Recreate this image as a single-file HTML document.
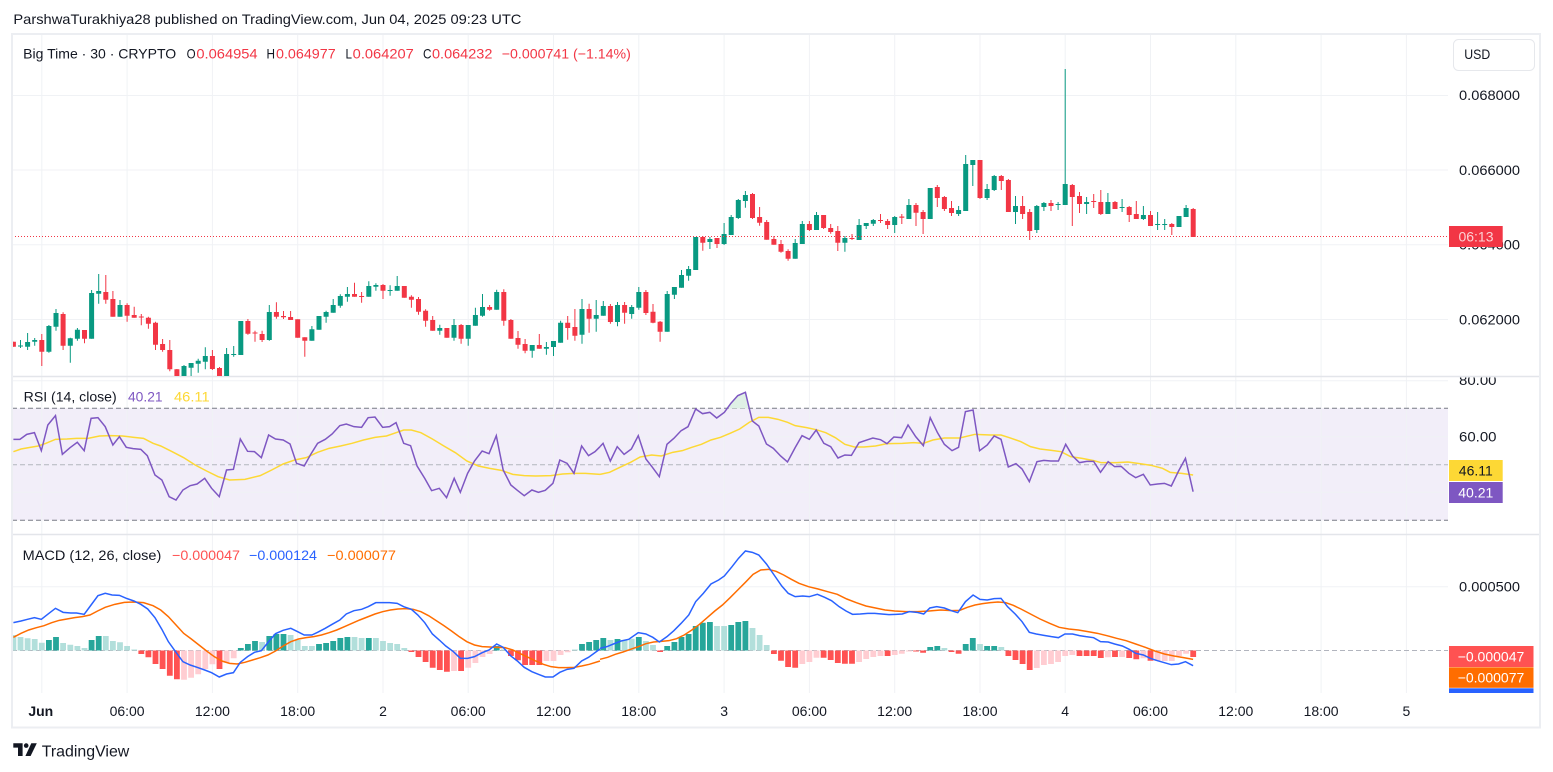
<!DOCTYPE html>
<html><head><meta charset="utf-8">
<style>
html,body{margin:0;padding:0;background:#fff;}
svg{display:block;}
text{font-family:"Liberation Sans",sans-serif;fill:#131722;}
</style></head>
<body>
<svg width="1553" height="772" viewBox="0 0 1553 772" xmlns="http://www.w3.org/2000/svg">
<defs>
<clipPath id="cp"><rect x="12" y="34" width="1436" height="342"/></clipPath>
<clipPath id="cr"><rect x="12" y="377" width="1436" height="157"/></clipPath>
<clipPath id="cm"><rect x="12" y="535" width="1436" height="158"/></clipPath>
<clipPath id="cra"><rect x="1448" y="377.5" width="92" height="157"/></clipPath>
<clipPath id="cma"><rect x="1448" y="535" width="92" height="158"/></clipPath>
</defs>
<rect width="1553" height="772" fill="#fff"/>

<!-- header -->
<text x="13.4" y="24" font-size="14" textLength="508" lengthAdjust="spacingAndGlyphs">ParshwaTurakhiya28 published on TradingView.com, Jun 04, 2025 09:23 UTC</text>

<!-- RSI band -->
<rect x="12" y="408.3" width="1436" height="112" fill="#f2eef9"/>

<!-- vertical gridlines -->
<g stroke="#f0f2f5" stroke-width="1">
<path d="M41.8 34V693M127.1 34V693M212.4 34V693M297.7 34V693M383 34V693M468.2 34V693M553.5 34V693M638.8 34V693M724.1 34V693M809.4 34V693M894.7 34V693M980 34V693M1065.2 34V693M1150.5 34V693M1235.8 34V693M1321.1 34V693M1406.4 34V693"/>
<path d="M12 95.5H1448M12 170H1448M12 244.7H1448M12 319.5H1448M12 380.7H1448M12 436.7H1448M12 492.3H1448M12 586.7H1448"/>
</g>
<!-- RSI dashed levels -->
<path d="M12 408.3H1448M12 520.3H1448" stroke="#787b86" stroke-width="1" stroke-dasharray="5 3"/>
<path d="M12 464.7H1448" stroke="#b2b5be" stroke-width="1" stroke-dasharray="5 3"/>
<path d="M12 650.5H1448" stroke="#b2b5be" stroke-width="1" stroke-dasharray="5 3"/>

<!-- pane separators -->
<path d="M12 376.5H1540M12 534.5H1540" stroke="#e3e5ea" stroke-width="1.5"/>

<!-- candles -->
<g clip-path="url(#cp)">
<path fill="none" stroke="#089981" stroke-width="1" d="M20.5 340V348M27.6 333V350M34.7 338V345.7M48.9 325V352.7M56 309V330.7M70.3 337.7V362.7M77.4 328V340.7M91.6 290V338.7M98.7 274V303.7M120 300V316.7M184 365V378M191.1 363V376M198.2 358.7V372.7M205.3 347.3V369.3M226.6 348V378M233.7 346V356.7M240.8 321V355M269.3 305V340.7M311.9 326V340.7M319 316V329.7M326.1 310.7V322.7M333.2 299V312.7M340.3 294.3V307.7M347.4 287V301.7M368.8 281.3V296.7M375.9 283.3V290.7M390.1 285.3V295.7M397.2 276V290.7M439.8 324.7V334.7M454 319V340.7M468.2 325V345.7M475.4 307.7V325.7M482.5 294V316.7M496.7 289.7V309.7M532.2 345V357.7M546.4 342V354.7M553.5 341V356M560.6 320.7V342.7M582 299V343.7M596.2 300V331.7M603.3 301V315.7M617.5 302V326.3M631.7 305V318.7M638.8 287V309.7M667.2 291V331.7M674.4 287V299M681.5 270V287.7M688.6 266V280.7M695.7 237V270M709.9 237V249M724.1 223V245M731.2 215V235M738.3 199V219M745.4 191V207.7M795.2 239V258.7M802.3 221V244M816.5 212V230M844.9 236V251.7M859.1 219V240M866.2 223V229M873.3 219V226M894.7 216V233M908.9 199V219M930.2 188V219M958.6 206V216M965.7 155V211M972.8 160V186M987.1 184V200M994.2 175V191M1015.5 196V224M1036.8 205V233M1043.9 202V211M1058.1 202V210M1065.2 69V205M1086.6 197V214M1107.9 193V214M1122.1 199V212M1143.4 206V220M1157.6 212V230M1164.7 219V230M1179 216V227M1186.1 205V217"/>
<path fill="none" stroke="#089981" stroke-width="5" d="M20.5 345.5V346.5M27.6 342V346.7M34.7 340V341.7M48.9 326V351.7M56 313V326.7M70.3 338.3V345.7M77.4 329.7V338.7M91.6 293V338.7M98.7 291V293.7M120 305V316.7M184 366V376M191.1 363V367.7M198.2 360.7V363.7M205.3 356V361.7M226.6 354V376M233.7 354V355M240.8 321V355M269.3 312V340M311.9 329.3V340.7M319 316V329.7M326.1 312V316.7M333.2 305V312.7M340.3 296V305.7M347.4 294V296.7M368.8 286V296.7M375.9 285V286.7M390.1 290V291M397.2 286V290.7M439.8 328V330.7M454 325V337.7M468.2 325V338.7M475.4 315V325.7M482.5 307V315.7M496.7 292V309.7M532.2 345V350.7M546.4 347V348.7M553.5 341V347M560.6 322.7V342.7M582 309V334.7M596.2 315V318.7M603.3 306V315.7M617.5 305V322M631.7 307V314M638.8 292V307.7M667.2 294V331.7M674.4 287V294.7M681.5 275V287.7M688.6 269V275.7M695.7 237V270M709.9 239V242M724.1 234V244M731.2 217V235M738.3 200V218M745.4 195V201M795.2 243V258.7M802.3 224V244M816.5 215V230M844.9 238V242.7M859.1 225V240M866.2 223V226M873.3 220V223.7M894.7 217V225M908.9 205V219M930.2 188V219M958.6 210V214M965.7 164V211M972.8 160V165M987.1 189V198M994.2 176V190M1015.5 206V212M1036.8 206V230M1043.9 203V207M1058.1 204V205M1065.2 184V205M1086.6 202V204M1107.9 202V214M1122.1 207V208M1143.4 215V219M1157.6 224V225M1164.7 224V225M1179 216V227M1186.1 208V217"/>
<path fill="none" stroke="#f23645" stroke-width="1" d="M13.4 341.7V346.7M41.8 334V366M63.1 312.3V350M84.5 330V343.3M105.8 275V303.7M112.9 291V316.7M127.1 303.3V321.7M134.2 306.7V317.7M141.3 314V325.3M148.4 316.7V328.7M155.5 321.7V350M162.6 339V351.7M169.8 340V371.3M176.9 369V378M212.4 350V370M219.5 367V378M247.9 319V334.7M255 330.7V341.7M262.1 330.7V342M276.4 302.3V318.7M283.5 311V319M290.6 311V320M297.7 319.3V337.7M304.8 337.3V356.7M354.5 282.7V296.7M361.6 292V302.7M383 284V299M404.3 286V297.7M411.4 295.3V307.7M418.5 297V314.7M425.6 309.3V326.7M432.7 316V330.7M446.9 328V337.7M461.1 324V343.7M489.6 305V310.7M503.8 289.3V325.7M510.9 319V338.7M518 331V348.7M525.1 339V353.3M539.3 334V348.7M567.7 316V339.7M574.9 309V340.7M589.1 303.7V332.7M610.4 304V323.7M624.6 302V323.7M645.9 290V315M653 304V323.3M660.1 321V341.7M702.8 236V250.7M717 238V248M752.5 193V219M759.6 207V225.7M766.7 220V239.7M773.9 236V244.7M781 240V252.7M788.1 249.3V260.7M809.4 221V231M823.6 215V229M830.7 224V233.7M837.8 226V251M852 234V240M880.5 214V223M887.6 219V229M901.8 214V224M916 203V226M923.1 210V234M937.3 185V207M944.4 196V211M951.5 201V216M980 160V199M1001.3 175V190M1008.4 179V212M1022.6 196V219M1029.7 209V240M1051 200V211M1072.3 184V226M1079.5 192V213M1093.7 194V208M1100.8 190V215M1115 201V209M1129.2 206V222M1136.3 201V219M1150.5 211V226M1171.8 223V235M1193.2 208V237"/>
<path fill="none" stroke="#f23645" stroke-width="5" d="M13.4 341.7V346.7M41.8 340V351.7M63.1 314V345.7M84.5 330V338.7M105.8 292V299.7M112.9 299V316.7M127.1 305V315.7M134.2 315V317.7M141.3 316.5V317.5M148.4 317.7V323.7M155.5 322.7V344.7M162.6 344V350M169.8 350V369.3M176.9 369.3V378M212.4 356V369M219.5 368V378M247.9 321V333.7M255 332.5V333.5M262.1 334V340M276.4 312V316.7M283.5 316V317.3M290.6 317V320M297.7 319.3V337.7M304.8 337.3V340.7M354.5 294V296.7M361.6 296V297M383 285V290.7M404.3 286V297.7M411.4 296.7V299.7M418.5 299V311.7M425.6 310.7V320.7M432.7 320V330.7M446.9 328V337.7M461.1 325V338.7M489.6 307V309.7M503.8 292V320.7M510.9 320V338.7M518 338V344.7M525.1 344V350.7M539.3 345V348.7M567.7 322.7V328M574.9 327V335.7M589.1 309V318.7M610.4 306V322M624.6 305V312.7M645.9 292V313M653 311.7V322.7M660.1 321.7V331.7M702.8 237V242.7M717 238V244M752.5 194V218M759.6 217V222.7M766.7 222V239.7M773.9 239V244.7M781 244V251.7M788.1 251V258.7M809.4 224V230M823.6 215V228M830.7 228V232M837.8 231V242.7M852 238V239M880.5 220V221M887.6 221V225M901.8 216.5V217.7M916 205V212.7M923.1 212V219M937.3 187V198M944.4 197V209M951.5 208V213M980 160V198M1001.3 176V181M1008.4 180V212M1022.6 206V214M1029.7 212V231M1051 203V206M1072.3 185V197M1079.5 196V204M1093.7 201V202M1100.8 202V214M1115 202V209M1129.2 207V215M1136.3 214V219M1150.5 215V226M1171.8 224V227M1193.2 209V237"/>
</g>
<!-- current price dotted line -->
<path d="M12 236.5H1448" stroke="#f23645" stroke-width="1" stroke-dasharray="1 2"/>

<!-- RSI -->
<g clip-path="url(#cr)">
<g transform="translate(600 385) scale(0.38265 0.33333)">
<polygon points="335,70 342,55 360,32 380,22 390,70" fill="#dff0e6"/>
</g>
<g transform="translate(0 385) scale(0.38265 0.33333)" fill="none">
<polyline vector-effect="non-scaling-stroke" stroke="#fdd835" stroke-width="1.5" points="35,200 55,192 75,188 100,183 120,175 145,163 175,162 200,160 230,160 260,153 290,152 320,153 350,157 375,160 400,175 420,183 450,200 480,218 510,240 540,258 570,275 600,285 640,283 680,272 710,255 740,237 770,225 800,218 830,202 860,190 890,183 920,175 950,165 980,157 1010,153 1035,143 1055,135 1075,135 1100,143 1130,162 1160,183 1190,203 1220,228 1250,243 1280,250 1310,256 1340,268 1370,272 1400,273 1440,272 1470,267 1500,265 1530,265 1568,268"/>
<polyline vector-effect="non-scaling-stroke" stroke="#7e57c2" stroke-width="1.5" points="35,163 52,163 70,148 90,143 108,197 125,120 145,92 163,208 183,188 202,172 220,197 238,100 256,98 275,125 295,180 312,155 330,187 348,191 368,193 385,212 405,270 423,285 442,335 460,345 478,315 497,302 515,297 535,280 553,310 573,335 592,255 610,253 628,162 647,199 665,200 683,218 702,150 720,162 740,165 758,177 775,235 795,243 812,208 830,175 850,163 868,147 888,122 905,117 925,125 945,127 962,98 980,96 1000,127 1018,125 1035,113 1055,175 1073,182 1090,243 1110,280 1128,317 1148,310 1167,338 1187,280 1203,322 1222,265 1240,228 1260,198 1278,206 1297,152 1315,255 1335,300 1352,316 1370,332 1390,315 1407,322 1425,316 1445,295 1463,225 1482,235 1500,265 1520,183 1538,212 1555,200 1568,185"/>
</g>
<g transform="translate(600 385) scale(0.38265 0.33333)" fill="none">
<polyline vector-effect="non-scaling-stroke" stroke="#fdd835" stroke-width="1.5" points="0,268 25,262 50,248 80,232 105,216 135,210 160,213 190,202 215,197 240,187 265,178 290,165 315,157 340,145 365,132 390,112 415,97 440,97 465,103 490,112 510,122 540,128 565,134 590,143 615,158 640,178 665,186 690,186 720,183 750,176 790,175 820,173 845,175 870,165 900,159 940,159 980,148 1020,150 1048,150 1070,158 1100,170 1125,185 1150,192 1180,196 1205,200 1230,215 1260,220 1290,227 1310,233 1350,233 1380,231 1410,236 1440,241 1470,250 1490,262 1520,265 1550,270"/>
<polyline vector-effect="non-scaling-stroke" stroke="#7e57c2" stroke-width="1.5" points="0,185 8,175 27,228 45,185 63,208 82,192 100,152 120,222 137,247 155,275 175,178 193,160 212,137 230,125 250,72 268,86 287,82 305,99 325,82 342,55 360,32 380,22 398,108 415,123 435,177 453,190 472,213 490,231 510,188 528,152 547,163 565,135 585,175 603,185 622,219 640,210 657,211 677,173 695,166 713,159 733,164 750,176 768,156 788,158 805,120 825,155 845,182 863,98 882,143 900,178 920,197 937,187 955,80 975,75 992,197 1012,180 1030,153 1048,163 1067,246 1087,236 1103,252 1122,290 1142,230 1160,226 1178,228 1198,228 1217,178 1235,213 1253,233 1272,229 1290,229 1308,262 1328,230 1345,245 1362,244 1382,265 1400,278 1420,268 1438,300 1457,297 1475,295 1493,303 1512,258 1530,220 1550,320"/>
</g>
</g>

<!-- MACD -->
<g clip-path="url(#cm)">
<path fill="none" stroke="#b2dfdb" stroke-width="5.8" d="M13.4 650.5V635M20.5 650.5V637M27.6 650.5V638.3M34.7 650.5V639M41.8 650.5V642.7M63.1 650.5V643M70.3 650.5V644.7M77.4 650.5V646M84.5 650.5V648M105.8 650.5V636M112.9 650.5V641M120 650.5V642.3M127.1 650.5V646M134.2 650.5V649.5M262.1 650.5V642M290.6 650.5V635M297.7 650.5V640M304.8 650.5V646M311.9 650.5V646M354.5 650.5V637M361.6 650.5V638M375.9 650.5V638M383 650.5V641M390.1 650.5V643M397.2 650.5V644M404.3 650.5V648M503.8 650.5V649.5M574.9 650.5V649.5M610.4 650.5V640M624.6 650.5V640M631.7 650.5V638.7M645.9 650.5V641M653 650.5V645M717 650.5V626M724.1 650.5V626M752.5 650.5V628M759.6 650.5V635M766.7 650.5V645M944.4 650.5V648M980 650.5V644M1001.3 650.5V647"/>
<path fill="none" stroke="#26a69a" stroke-width="5.8" d="M48.9 650.5V640M56 650.5V637M91.6 650.5V640M98.7 650.5V636M240.8 650.5V648M247.9 650.5V644M255 650.5V641M269.3 650.5V636M276.4 650.5V634M283.5 650.5V634M319 650.5V644M326.1 650.5V643M333.2 650.5V641M340.3 650.5V638M347.4 650.5V637M368.8 650.5V638M496.7 650.5V646M582 650.5V644M589.1 650.5V642M596.2 650.5V640M603.3 650.5V638M617.5 650.5V639M638.8 650.5V637M667.2 650.5V646M674.4 650.5V642M681.5 650.5V637M688.6 650.5V634M695.7 650.5V626M702.8 650.5V622.7M709.9 650.5V622M731.2 650.5V625M738.3 650.5V622M745.4 650.5V621M930.2 650.5V647M937.3 650.5V646M965.7 650.5V644M972.8 650.5V638M987.1 650.5V646M994.2 650.5V646"/>
<path fill="none" stroke="#ff5252" stroke-width="5.8" d="M141.3 650.5V654M148.4 650.5V657.3M155.5 650.5V664M162.6 650.5V669M169.8 650.5V675.7M176.9 650.5V679.3M219.5 650.5V669M411.4 650.5V652M418.5 650.5V657M425.6 650.5V662M432.7 650.5V667.7M439.8 650.5V670M446.9 650.5V671.7M461.1 650.5V671M510.9 650.5V656M518 650.5V660.3M525.1 650.5V665M532.2 650.5V665M539.3 650.5V665M660.1 650.5V652M773.9 650.5V654M781 650.5V660.7M788.1 650.5V667M795.2 650.5V667.7M823.6 650.5V657.7M830.7 650.5V660M837.8 650.5V663M844.9 650.5V663.7M852 650.5V663.7M887.6 650.5V656M916 650.5V651.5M923.1 650.5V652.7M951.5 650.5V652M958.6 650.5V653.7M1008.4 650.5V656M1015.5 650.5V660M1022.6 650.5V664M1029.7 650.5V670M1079.5 650.5V656M1086.6 650.5V656M1093.7 650.5V656M1100.8 650.5V658M1115 650.5V657M1129.2 650.5V658M1136.3 650.5V659.3M1150.5 650.5V660.7M1193.2 650.5V657"/>
<path fill="none" stroke="#ffcdd2" stroke-width="5.8" d="M184 650.5V679.7M191.1 650.5V677.7M198.2 650.5V674.3M205.3 650.5V669M212.4 650.5V664.3M226.6 650.5V662.7M233.7 650.5V658.3M454 650.5V671M468.2 650.5V667.7M475.4 650.5V663M482.5 650.5V657M489.6 650.5V654M546.4 650.5V661M553.5 650.5V661M560.6 650.5V655M567.7 650.5V652.3M802.3 650.5V664M809.4 650.5V662M816.5 650.5V657.7M859.1 650.5V662M866.2 650.5V659M873.3 650.5V657M880.5 650.5V656M894.7 650.5V655M901.8 650.5V653.7M908.9 650.5V651.5M1036.8 650.5V668M1043.9 650.5V665M1051 650.5V664M1058.1 650.5V662M1065.2 650.5V656M1072.3 650.5V655M1107.9 650.5V657.3M1122.1 650.5V657M1143.4 650.5V658.3M1157.6 650.5V661M1164.7 650.5V661M1171.8 650.5V661M1179 650.5V656M1186.1 650.5V653.7"/>
<g transform="translate(0 575) scale(0.38265 0.33333)" fill="none">
<polyline vector-effect="non-scaling-stroke" stroke="#ff6d00" stroke-width="1.5" points="35,187 55,175 75,165 95,158 115,152 135,143 155,136 175,132 195,128 215,125 235,120 255,108 275,97 300,88 325,82 350,81 375,83 400,92 420,105 440,125 460,150 480,175 500,192 520,210 540,228 560,245 580,258 600,265 620,267 640,262 660,255 680,248 700,240 720,228 740,213 760,200 780,192 800,188 820,185 840,180 860,173 880,165 900,155 920,145 940,135 960,126 980,117 1000,110 1020,105 1040,102 1060,101 1080,103 1100,110 1120,122 1140,137 1160,152 1180,168 1200,185 1220,200 1240,210 1260,215 1280,216 1300,217 1320,218 1340,225 1360,236 1380,247 1400,258 1420,268 1440,275 1460,278 1480,278 1500,277 1520,273 1540,268 1568,258"/>
<polyline vector-effect="non-scaling-stroke" stroke="#2962ff" stroke-width="1.5" points="35,143 55,138 72,133 90,128 108,133 128,115 145,100 165,112 185,114 200,114 220,118 238,90 256,62 275,55 293,60 312,61 330,70 350,78 368,88 386,102 405,128 423,163 440,200 460,232 478,260 497,270 515,277 535,285 553,293 573,306 592,297 610,293 628,262 647,245 665,232 683,227 702,200 720,176 740,166 760,160 778,170 795,180 815,180 830,172 850,160 868,148 888,135 905,117 925,107 945,103 962,95 982,83 1000,83 1018,83 1038,85 1055,95 1075,103 1092,120 1110,143 1130,177 1148,195 1165,213 1185,230 1203,250 1222,250 1240,245 1260,233 1278,225 1298,207 1315,217 1335,243 1352,258 1370,277 1390,290 1407,298 1425,306 1445,306 1463,292 1482,283 1500,280 1520,258 1538,247 1568,222"/>
</g>
<g transform="translate(600 540) scale(0.38265 0.33333)" fill="none">
<polyline vector-effect="non-scaling-stroke" stroke="#ff6d00" stroke-width="1.5" points="0,358 20,352 40,343 60,336 80,328 100,320 120,311 140,306 160,304 180,302 200,296 220,285 240,270 260,253 280,233 300,213 320,195 340,173 360,150 380,127 400,103 420,90 440,88 460,94 480,105 500,118 520,130 545,140 570,147 595,155 620,163 645,177 670,188 695,198 720,204 745,210 770,213 800,215 830,215 860,213 890,210 920,212 940,211 960,202 980,195 1000,191 1020,188 1040,186 1060,188 1080,196 1100,207 1125,222 1150,237 1175,250 1200,262 1225,267 1250,270 1275,275 1300,280 1325,287 1350,295 1375,302 1400,312 1425,322 1450,333 1475,342 1500,348 1525,353 1550,358"/>
<polyline vector-effect="non-scaling-stroke" stroke="#2962ff" stroke-width="1.5" points="0,325 18,320 35,312 55,303 75,298 100,278 120,282 138,292 155,306 175,290 193,272 212,250 232,225 250,185 270,160 290,132 310,120 325,108 345,80 362,55 380,33 398,37 415,45 435,72 455,105 475,138 492,160 510,170 530,168 547,170 568,163 587,172 605,182 625,200 643,213 660,223 680,222 700,220 718,220 736,222 755,224 773,223 790,222 808,215 828,217 846,222 862,204 880,200 900,204 918,212 935,218 955,185 975,165 993,178 1012,180 1030,176 1048,175 1065,200 1085,222 1103,245 1122,277 1140,282 1160,286 1180,290 1198,293 1215,282 1235,282 1253,287 1270,290 1290,293 1308,305 1328,306 1345,312 1365,318 1383,328 1400,340 1420,345 1438,355 1457,362 1475,368 1493,374 1512,372 1530,365 1550,377"/>
</g>
</g>

<!-- legends -->
<g font-size="14">
<text x="23.2" y="58.5" textLength="153" lengthAdjust="spacingAndGlyphs">Big Time · 30 · CRYPTO</text>
<text x="186.6" y="58.5" textLength="9" lengthAdjust="spacingAndGlyphs">O</text>
<text x="196.4" y="58.5" textLength="61.2" lengthAdjust="spacingAndGlyphs" style="fill:#f23645">0.064954</text>
<text x="266.5" y="58.5" textLength="8.5" lengthAdjust="spacingAndGlyphs">H</text>
<text x="276" y="58.5" textLength="59.7" lengthAdjust="spacingAndGlyphs" style="fill:#f23645">0.064977</text>
<text x="345.5" y="58.5" textLength="6.5" lengthAdjust="spacingAndGlyphs">L</text>
<text x="352.7" y="58.5" textLength="61.1" lengthAdjust="spacingAndGlyphs" style="fill:#f23645">0.064207</text>
<text x="423" y="58.5" textLength="8.5" lengthAdjust="spacingAndGlyphs">C</text>
<text x="432" y="58.5" textLength="60.4" lengthAdjust="spacingAndGlyphs" style="fill:#f23645">0.064232</text>
<text x="501.8" y="58.5" textLength="129" lengthAdjust="spacingAndGlyphs" style="fill:#f23645">−0.000741 (−1.14%)</text>

<text x="23.7" y="401.5" textLength="93" lengthAdjust="spacingAndGlyphs">RSI (14, close)</text>
<text x="128" y="401.5" textLength="34.6" lengthAdjust="spacingAndGlyphs" style="fill:#7e57c2">40.21</text>
<text x="174" y="401.5" textLength="35.7" lengthAdjust="spacingAndGlyphs" style="fill:#fdd835">46.11</text>

<text x="22.7" y="560" textLength="138.6" lengthAdjust="spacingAndGlyphs">MACD (12, 26, close)</text>
<text x="172" y="560" textLength="68" lengthAdjust="spacingAndGlyphs" style="fill:#ff5252">−0.000047</text>
<text x="249" y="560" textLength="68" lengthAdjust="spacingAndGlyphs" style="fill:#2962ff">−0.000124</text>
<text x="327" y="560" textLength="69" lengthAdjust="spacingAndGlyphs" style="fill:#ff6d00">−0.000077</text>
</g>

<!-- price axis -->
<rect x="1453.5" y="39.5" width="81" height="31" rx="5" fill="#fff" stroke="#e6e8ec"/>
<text x="1464.3" y="59" font-size="13.5" textLength="26" lengthAdjust="spacingAndGlyphs">USD</text>
<g font-size="14">
<text x="1459" y="100" textLength="61" lengthAdjust="spacingAndGlyphs">0.068000</text>
<text x="1459" y="175" textLength="61" lengthAdjust="spacingAndGlyphs">0.066000</text>
<text x="1459" y="249.7" textLength="61" lengthAdjust="spacingAndGlyphs">0.064000</text>
<text x="1459" y="324.5" textLength="61" lengthAdjust="spacingAndGlyphs">0.062000</text>
</g>
<rect x="1449" y="226" width="53.7" height="21" fill="#f23645"/>
<text x="1476" y="241.5" font-size="14" text-anchor="middle" style="fill:#fcd0d3">06:13</text>

<!-- RSI axis -->
<g clip-path="url(#cra)" font-size="14">
<text x="1459" y="385" textLength="37.5" lengthAdjust="spacingAndGlyphs">80.00</text>
<text x="1459" y="441.5" textLength="37.5" lengthAdjust="spacingAndGlyphs">60.00</text>
<rect x="1449" y="460" width="53.7" height="21" fill="#fdd835"/>
<text x="1475.8" y="475.5" text-anchor="middle">46.11</text>
<rect x="1449" y="482" width="53.7" height="21" fill="#7e57c2"/>
<text x="1475.8" y="497.5" text-anchor="middle" style="fill:#fff">40.21</text>
</g>

<!-- MACD axis -->
<g clip-path="url(#cma)" font-size="14">
<text x="1459" y="591.5" textLength="61" lengthAdjust="spacingAndGlyphs">0.000500</text>
<text x="1459" y="655.5" textLength="61" lengthAdjust="spacingAndGlyphs">0.000000</text>
<rect x="1449" y="646" width="84.5" height="21" fill="#ff5252"/>
<text x="1491" y="661.5" text-anchor="middle" style="fill:#fff">−0.000047</text>
<rect x="1449" y="667.3" width="84.5" height="20.5" fill="#ff6d00"/>
<text x="1491" y="682.5" text-anchor="middle" style="fill:#fff">−0.000077</text>
<rect x="1449" y="688.3" width="84.5" height="21" fill="#2962ff"/>
</g>

<!-- time axis -->
<g font-size="14" text-anchor="middle">
<text x="40.8" y="716" font-weight="bold">Jun</text>
<text x="127.1" y="716">06:00</text>
<text x="212.4" y="716">12:00</text>
<text x="297.7" y="716">18:00</text>
<text x="383" y="716">2</text>
<text x="468.2" y="716">06:00</text>
<text x="553.5" y="716">12:00</text>
<text x="638.8" y="716">18:00</text>
<text x="724.1" y="716">3</text>
<text x="809.4" y="716">06:00</text>
<text x="894.7" y="716">12:00</text>
<text x="980" y="716">18:00</text>
<text x="1065.2" y="716">4</text>
<text x="1150.5" y="716">06:00</text>
<text x="1235.8" y="716">12:00</text>
<text x="1321.1" y="716">18:00</text>
<text x="1406.4" y="716">5</text>
</g>

<!-- frame -->
<rect x="12" y="34" width="1528" height="693.5" fill="none" stroke="#eceef2" stroke-width="2"/>

<!-- footer -->
<g fill="#131722">
<path d="M13.3 743.3H22.6V756H18V747.6H13.3Z"/>
<circle cx="26.2" cy="745.6" r="2.3"/>
<path d="M31.3 743.3H36.8L30.6 756H25.4Z"/>
</g>
<text x="41.7" y="756.5" font-size="16" textLength="87.6" lengthAdjust="spacingAndGlyphs">TradingView</text>
</svg>
</body></html>
